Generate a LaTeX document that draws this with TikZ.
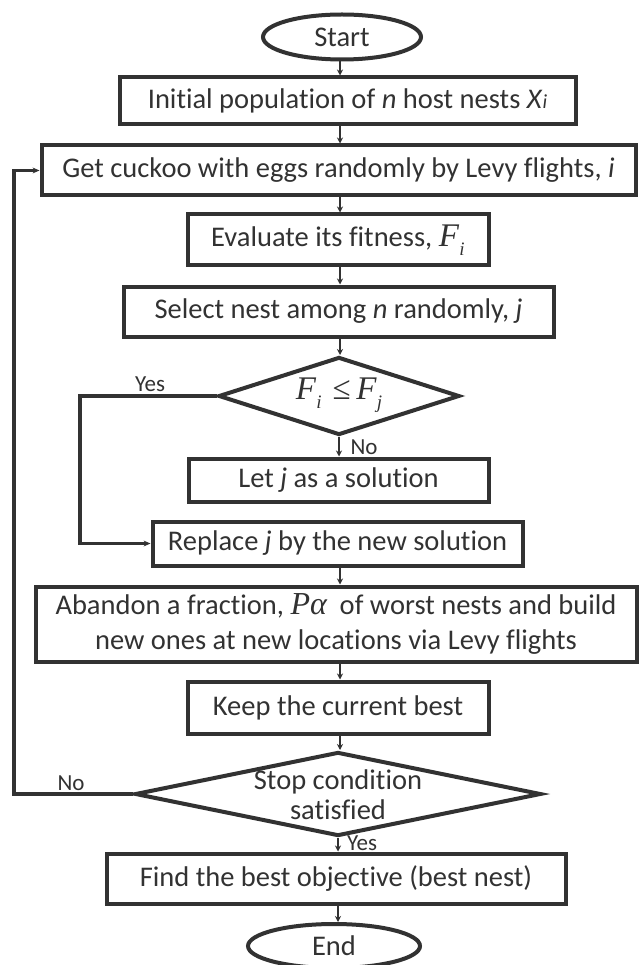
\documentclass[tikz,border=0pt]{standalone}
\usepackage{fontspec}
\setmainfont[Ligatures={NoCommon}]{Carlito}
\newfontfamily\tnr{Liberation Serif}
\usetikzlibrary{shapes.geometric,arrows.meta}
\definecolor{ink}{RGB}{50,50,50}
\newcommand{\mv}[2]{{\tnr\itshape #1\kern0.5pt\raisebox{-0.28em}{\fontsize{19}{19}\selectfont #2}}}
\begin{document}
\begin{tikzpicture}[x=1pt,y=-1pt,
  every node/.style={text=ink},
  mainfont/.style={font=\fontsize{28.5}{31}\selectfont},
  mathfont/.style={font=\fontsize{33}{36}\selectfont},
  lbl/.style={font=\fontsize{23}{25}\selectfont, inner sep=0pt},
  box/.style={draw=ink, line width=4pt, rectangle, inner sep=0pt, align=center, mainfont},
  term/.style={draw=ink, line width=4pt, ellipse, inner sep=0pt, mainfont},
  dia/.style={draw=ink, line width=4pt, diamond, inner sep=0pt},
  flow/.style={draw=ink, line width=1.5pt, -{Stealth[length=6pt,width=6pt]}},
  loopline/.style={draw=ink, line width=3.2pt, -{Stealth[length=7pt,width=6pt,line width=0pt]}}
]
\fill[white] (0,0) rectangle (640,965);
\useasboundingbox (0,0) rectangle (640,965);

\coordinate (spine) at (340,0);

\node[term, minimum width=158pt, minimum height=45pt] (start) at (342,37) {Start};
\node[box, minimum width=456pt, minimum height=47pt] (init) at (347.5,101)
  {Initial population of \textit{n} host nests \textit{X}{\fontsize{20}{20}\selectfont\textit{i}}};
\node[box, minimum width=594pt, minimum height=50pt] (cuckoo) at (338.5,170.5)
  {Get cuckoo with eggs randomly by Levy flights, \textit{i}};
\node[box, minimum width=301pt, minimum height=51pt] (eval) at (338,240)
  {Evaluate its fitness, {\fontsize{33}{34}\selectfont\mv{F}{i}}};
\node[box, minimum width=430pt, minimum height=50pt] (select) at (338.5,311.5)
  {Select nest among \textit{n} randomly, \textit{j}};
\node[dia, minimum width=241pt, minimum height=78pt] (d1) at (339,396) {};
\node[mathfont, inner sep=0pt] (d1t) at (339,395) {\mv{F}{i}\,{\tnr\,≤\,}\mv{F}{j}};
\node[box, minimum width=300pt, minimum height=43pt] (let) at (338.5,480)
  {Let \textit{j} as a solution};
\node[box, minimum width=370pt, minimum height=44pt] (replace) at (337.5,543.5)
  {Replace \textit{j} by the new solution};
\node[box, minimum width=601pt, minimum height=75pt, font=\fontsize{28.5}{35}\selectfont] (abandon) at (336,624)
  {Abandon a fraction, {\fontsize{32}{34}\selectfont\tnr\itshape Pα}\ \ of worst nests and build\\new ones at new locations via Levy flights};
\node[box, minimum width=301pt, minimum height=52pt] (keep) at (338,707.5)
  {Keep the current best};
\node[dia, minimum width=406pt, minimum height=84pt] (d2) at (338,794) {};
\node[align=center, inner sep=0pt, font=\fontsize{28.5}{30}\selectfont] (d2t) at (338,795) {Stop condition\\satisfied};
\node[box, minimum width=459pt, minimum height=50pt] (find) at (336,878.5)
  {Find the best objective (best nest)};
\node[term, minimum width=172pt, minimum height=44pt] (end) at (334,946) {End};

% main spine arrows
\draw[flow] (spine |- start.south) -- (spine |- init.north);
\draw[flow] (spine |- init.south) -- (spine |- cuckoo.north);
\draw[flow] (spine |- cuckoo.south) -- (spine |- eval.north);
\draw[flow] (spine |- eval.south) -- (spine |- select.north);
\draw[flow] (spine |- select.south) -- (spine |- d1.north);
\draw[flow] (d1.south) -- (d1.south |- let.north);
\draw[flow] (spine |- replace.south) -- (spine |- abandon.north);
\draw[flow] (spine |- abandon.south) -- (spine |- keep.north);
\draw[flow] (spine |- keep.south) -- (spine |- d2.north);
\draw[flow] (d2.south) -- (d2.south |- find.north);
\draw[flow] (d2.south |- find.south) -- (d2.south |- end.north);

% Yes branch of first decision
\coordinate (yesx) at (80,0);
\draw[loopline] (d1.west) -- (d1.west -| yesx) |- (replace.west);

% No branch of stop decision
\coordinate (nox) at (14,0);
\draw[loopline] (d2.west) -- (d2.west -| nox) |- (cuckoo.west);

% labels
\node[lbl] (yes1) at (150,384) {Yes};
\node[lbl] (no1) at (364,447) {No};
\node[lbl] (no2) at (71,783) {No};
\node[lbl] (yes2) at (362,843) {Yes};
\end{tikzpicture}
\end{document}
